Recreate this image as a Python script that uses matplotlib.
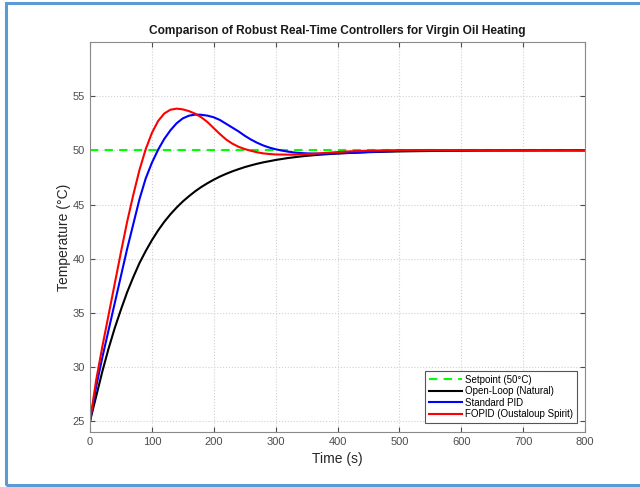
import matplotlib.pyplot as plt
from matplotlib.patches import Rectangle

# time samples (s)
time = [0, 10, 20, 30, 40, 50, 60, 70, 80, 90, 100, 110, 120, 130, 140, 150,
        160, 170, 180, 190, 200, 210, 220, 230, 240, 250, 260, 270, 280, 290,
        300, 310, 320, 330, 340, 350, 360, 370, 380, 390, 400, 425, 450, 475,
        500, 550, 600, 650, 700, 750, 800]

setpoint = 50

# open-loop response
open_loop = [25.0, 27.3, 29.6, 31.7, 33.6, 35.3, 36.9, 38.3, 39.6, 40.7, 41.7,
             42.6, 43.4, 44.1, 44.72, 45.28, 45.77, 46.22, 46.62, 46.97, 47.29,
             47.58, 47.83, 48.06, 48.26, 48.45, 48.61, 48.76, 48.89, 49.0,
             49.11, 49.2, 49.29, 49.36, 49.43, 49.49, 49.54, 49.59, 49.63,
             49.67, 49.71, 49.77, 49.83, 49.87, 49.9, 49.94, 49.97, 49.98,
             49.99, 50.0, 50.0]

# standard PID
pid = [25.0, 28.2, 30.9, 33.4, 35.9, 38.4, 40.9, 43.2, 45.5, 47.4, 48.85,
       50.05, 51.05, 51.85, 52.5, 52.95, 53.2, 53.3, 53.28, 53.2, 53.05, 52.8,
       52.45, 52.1, 51.75, 51.35, 51.0, 50.7, 50.45, 50.25, 50.1, 49.98,
       49.88, 49.8, 49.75, 49.72, 49.7, 49.69, 49.69, 49.7, 49.72, 49.78,
       49.85, 49.9, 49.95, 49.99, 50.0, 50.01, 50.0, 50.0, 50.0]

# FOPID
fopid = [25.0, 28.8, 31.9, 34.8, 37.7, 40.6, 43.4, 45.9, 48.2, 50.1, 51.6,
         52.7, 53.4, 53.75, 53.85, 53.78, 53.62, 53.38, 53.05, 52.6, 52.05,
         51.5, 51.0, 50.62, 50.33, 50.12, 49.96, 49.82, 49.72, 49.66, 49.62,
         49.61, 49.6, 49.6, 49.62, 49.65, 49.68, 49.72, 49.76, 49.8, 49.84,
         49.92, 49.97, 50.0, 50.02, 50.03, 50.02, 50.01, 50.0, 50.0, 50.0]

plt.rcParams['font.family'] = ['Liberation Sans', 'DejaVu Sans']

fig = plt.figure(figsize=(6.4, 4.87), dpi=100)
ax = fig.add_axes([90/640, 55/487, 495/640, 390/487])

ax.plot([time[0], time[-1]], [setpoint, setpoint], color=(0, 1, 0), ls='--',
        lw=1.5, dashes=(4, 3), label='Setpoint (50°C)')
ax.plot(time, open_loop, color='k', lw=1.5, label='Open-Loop (Natural)')
ax.plot(time, pid, color='b', lw=1.5, label='Standard PID')
ax.plot(time, fopid, color='r', lw=1.5, label='FOPID (Oustaloup Spirit)')

ax.set_xlim(0, 800)
ax.set_ylim(24, 60)
ax.set_xticks(range(0, 801, 100))
ax.set_yticks(range(25, 56, 5))
ax.grid(True, ls=':', color='#d0d0d0', lw=0.8)
ax.tick_params(direction='in', top=True, right=True, labelsize=8,
               colors='#4d4d4d', length=3.5)
for s in ax.spines.values():
    s.set_color('#8a8a8a')

ax.set_xlabel('Time (s)', fontsize=10, color='#262626')
ax.set_ylabel('Temperature (°C)', fontsize=10, color='#262626', labelpad=1.5)
ax.set_title('Comparison of Robust Real-Time Controllers for Virgin Oil Heating',
             fontsize=8.6, fontweight='bold', color='#1a1a1a', pad=6)

leg = ax.legend(loc='lower right', bbox_to_anchor=(0.984, 0.023), fontsize=7,
                fancybox=False, framealpha=1, edgecolor='#555555',
                handlelength=3.4, handletextpad=0.3, labelspacing=0.15,
                borderpad=0.4, borderaxespad=0)
leg.get_frame().set_linewidth(0.8)

# blue frame around the figure
fig.patches.append(Rectangle((5.5/640, 2/487), 1.0, 482/487, fill=False,
                             edgecolor='#5b9bd5', lw=2.2,
                             transform=fig.transFigure, clip_on=False))

fig.savefig('out.png', dpi=100)
